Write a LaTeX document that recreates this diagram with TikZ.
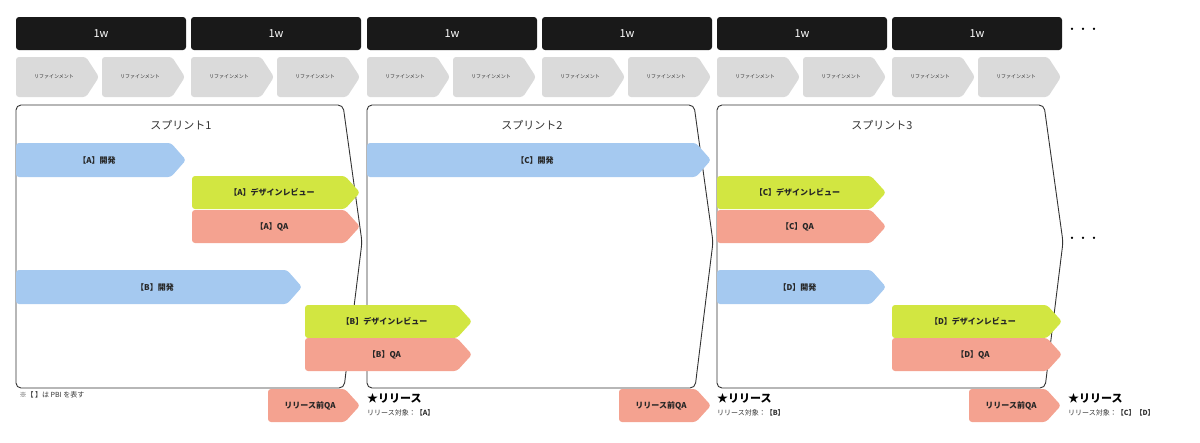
\documentclass[tikz,border=0pt]{standalone}
\usepackage{fontspec}
\setmainfont{Noto Sans CJK JP}
\begin{document}
\begin{tikzpicture}[x=1pt,y=-1pt,
  wk/.style={fill=black!90,rounded corners=3pt},
  lbl/.style={font=\fontsize{8}{9}\selectfont\bfseries,text=black!85},
  frame/.style={draw=black!80,line width=0.9pt,rounded corners=5pt}]
\definecolor{cgray}{HTML}{DADADA}
\definecolor{cblue}{HTML}{A5C9F0}
\definecolor{cgreen}{HTML}{D2E641}
\definecolor{csal}{HTML}{F4A290}
\useasboundingbox (0,0) rectangle (1200,442);
\newcommand\chev[7]{%
  \fill[#5,rounded corners=3pt] (#1,#3) -- (#2-15,#3) -- (#2,{(#3+#4)/2}) -- (#2-15,#4) -- (#1,#4) -- cycle;
  \node[lbl] (#6) at ({(#1+#2-8)/2},{(#3+#4)/2}) {#7};}
% weeks
\foreach \x [count=\i] in {16,191,367,542,717,892}{
  \fill[wk] (\x,17) rectangle (\x+170,50);
  \node[text=white,font=\fontsize{11}{12}\selectfont] (w\i) at (\x+85,33.5) {1w};
  \fill[cgray,rounded corners=3pt] (\x,57) -- (\x+70,57) -- (\x+83,77) -- (\x+70,97) -- (\x,97) -- cycle;
  \node[font=\fontsize{5}{6}\selectfont,text=black!80] (ra\i) at (\x+38,77) {リファインメント};
  \fill[cgray,rounded corners=3pt] (\x+86,57) -- (\x+156,57) -- (\x+169,77) -- (\x+156,97) -- (\x+86,97) -- cycle;
  \node[font=\fontsize{5}{6}\selectfont,text=black!80] (rb\i) at (\x+124,77) {リファインメント};
}
\node[font=\fontsize{11}{12}\selectfont] (d1) at (1083,31) {・・・};
\node[font=\fontsize{11}{12}\selectfont] (d2) at (1083,240) {・・・};
% sprint frames
\foreach \x/\t [count=\i] in {16/1,367/2,717/3}{
  \draw[frame] (\x,105) -- (\x+327,105) -- (\x+346,242) -- (\x+328,388) -- (\x,388) -- cycle;
  \node[font=\fontsize{11}{12}\selectfont,text=black!80] (s\i) at (\x+165,125) {スプリント\t};
}
% bars
\chev{16}{186}{143}{177}{cblue}{ad}{【A】開発}
\chev{192}{360}{176}{209}{cgreen}{ar}{【A】デザインレビュー}
\chev{192}{360}{210}{243}{csal}{aq}{【A】QA}
\chev{16}{302}{270}{304}{cblue}{bd}{【B】開発}
\chev{305}{472}{305}{338}{cgreen}{br}{【B】デザインレビュー}
\chev{305}{472}{338}{371}{csal}{bq}{【B】QA}
\chev{367}{711}{143}{177}{cblue}{cd}{【C】開発}
\chev{717}{886}{176}{209}{cgreen}{cr}{【C】デザインレビュー}
\chev{717}{886}{210}{243}{csal}{cq}{【C】QA}
\chev{717}{886}{270}{304}{cblue}{dd}{【D】開発}
\chev{892}{1062}{305}{338}{cgreen}{dr}{【D】デザインレビュー}
\chev{892}{1062}{338}{371}{csal}{dq}{【D】QA}
% release
\node[font=\fontsize{7}{8}\selectfont,text=black!80,anchor=west] (note) at (16,395) {※【 】は PBI を表す};
\foreach \x/\s/\tg [count=\i] in {268/367/【A】,619/717/【B】,969/1068/【C】【D】}{
  \chev{\x}{\x+92}{389}{422}{csal}{pq\i}{リリース前QA}
  \node[font=\fontsize{11}{12}\selectfont\bfseries,anchor=west,inner sep=0pt] (rel\i) at (\s,398) {★リリース};
  \node[font=\fontsize{7}{8}\selectfont,anchor=west,inner sep=0pt,text=black!80] (rt\i) at (\s,413) {リリース対象：\textbf{\tg}};
}
\end{tikzpicture}
\end{document}
